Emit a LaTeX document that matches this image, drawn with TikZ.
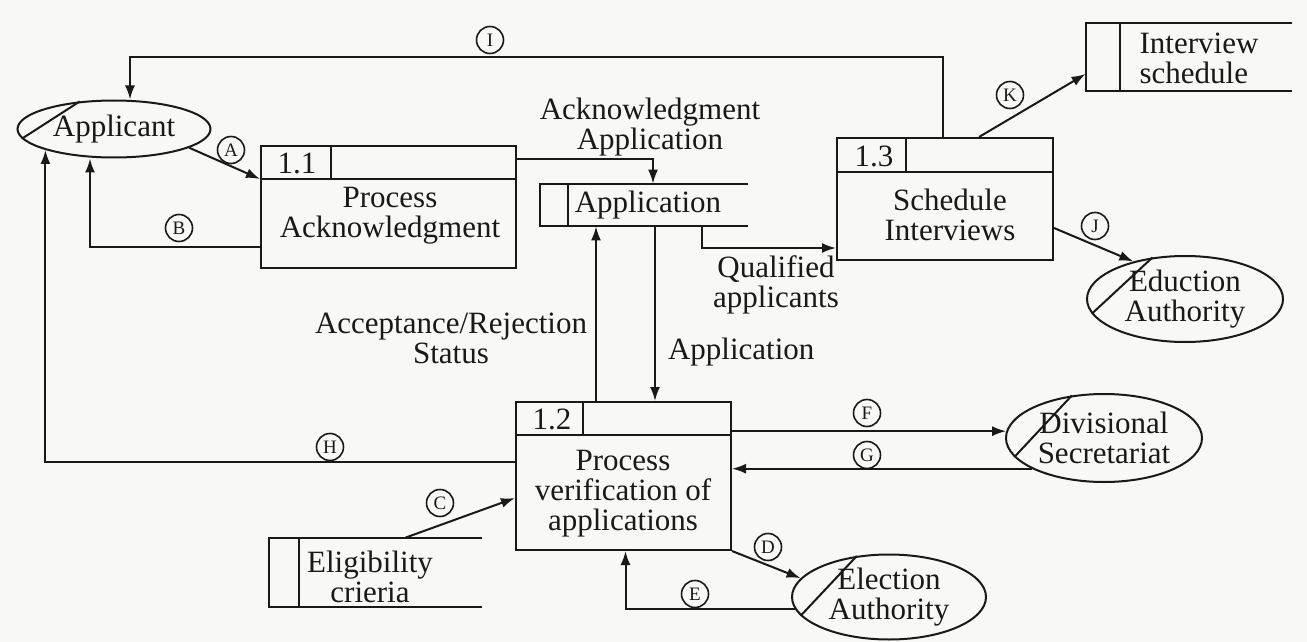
\documentclass[tikz,border=0pt]{standalone}
\usepackage{fontspec}
\setmainfont{Liberation Serif}
\usetikzlibrary{arrows.meta, calc, shapes.geometric}
\definecolor{paper}{RGB}{248,248,247}
\definecolor{ink}{RGB}{25,25,25}

\begin{document}
\begin{tikzpicture}[
    x=0.5pt, y=-0.5pt,
    every node/.style={font=\fontsize{15.5}{15}\selectfont, text=ink},
    proc/.style={draw=ink, line width=1pt, inner sep=0pt},
    store/.style={inner sep=0pt},
    ent/.style={draw=ink, line width=1pt, ellipse, inner sep=0pt, align=center},
    tag/.style={draw=ink, circle, line width=0.8pt, inner sep=0pt, minimum size=13.5pt,
                font=\fontsize{9.5}{9.5}\selectfont},
    flow/.style={-{Latex[length=7pt,width=5pt]}, draw=ink, line width=1pt},
    rim/.style={draw=ink, line width=1pt},
]
    \fill[paper] (0,0) rectangle (1307,642);
    \useasboundingbox (0,0) rectangle (1307,642);

    % Process 1.1
    \node[proc, minimum width=127.5pt, minimum height=61pt] (p11) at (388.5,207) {};
    \draw[rim] ([yshift=-17pt]p11.north west) -- ([yshift=-17pt]p11.north east);
    \draw[rim] ([xshift=35.5pt]p11.north west) -- ++(0,34);
    \node (p11id) at (297,163) {1.1};
    \node[align=center] (p11txt) at (390,216) {Process\\Acknowledgment};

    % Process 1.2
    \node[proc, minimum width=107.5pt, minimum height=74pt] (p12) at (623.5,476) {};
    \draw[rim] ([yshift=-17pt]p12.north west) -- ([yshift=-17pt]p12.north east);
    \draw[rim] ([xshift=34pt]p12.north west) -- ++(0,34);
    \node (p12id) at (552,419) {1.2};
    \node[align=center] (p12txt) at (623,494) {Process\\verification of\\applications};

    % Process 1.3
    \node[proc, minimum width=108pt, minimum height=61pt] (p13) at (945,199) {};
    \draw[rim] ([yshift=-17.5pt]p13.north west) -- ([yshift=-17.5pt]p13.north east);
    \draw[rim] ([xshift=35pt]p13.north west) -- ++(0,35);
    \node (p13id) at (874,156) {1.3};
    \node[align=center] (p13txt) at (950,214.5) {Schedule\\Interviews};

    % Data stores
    \node[store, minimum width=104pt, minimum height=21pt] (appst) at (644,205) {};
    \draw[rim] (appst.north east) -- (appst.north west) -- (appst.south west) -- (appst.south east);
    \draw[rim] ([xshift=14pt]appst.north west) -- ([xshift=14pt]appst.south west);
    \node (appsttxt) at (648,205) {Application};

    \node[store, minimum width=103pt, minimum height=34pt] (isch) at (1189,57) {};
    \draw[rim] (isch.north east) -- (isch.north west) -- (isch.south west) -- (isch.south east);
    \draw[rim] ([xshift=17pt]isch.north west) -- ([xshift=17pt]isch.south west);
    \node[align=left] (ischtxt) at (1199,58) {Interview\\schedule};

    \node[store, minimum width=106.5pt, minimum height=34.5pt] (elig) at (375.5,572.5) {};
    \draw[rim] (elig.north east) -- (elig.north west) -- (elig.south west) -- (elig.south east);
    \draw[rim] ([xshift=15pt]elig.north west) -- ([xshift=15pt]elig.south west);
    \node[align=center] (eligtxt) at (370,577) {Eligibility\\crieria};

    % External entities
    \node[ent, minimum width=96.5pt, minimum height=28.5pt] (app) at (114,129) {Applicant};
    \draw[rim] (app.186) -- (app.141);
    \node[ent, minimum width=97pt, minimum height=42.5pt] (ea) at (889,597) {Election\\Authority};
    \draw[rim] (ea.192) -- (ea.128);
    \node[ent, minimum width=98pt, minimum height=44pt] (ds) at (1104,438) {Divisional\\Secretariat};
    \draw[rim] (ds.192) -- (ds.127);
    \node[ent, minimum width=98pt, minimum height=43pt] (edu) at (1185,299) {Eduction\\Authority};
    \draw[rim] (edu.189) -- (edu.128);

    % Flows round the applicant
    \coordinate (itop) at (130,57);
    \draw[flow] ([xshift=-1pt]p13.north) |- (itop) -- (itop |- app.north);
    \node[tag] (tagi) at (490,40) {I};
    \draw[flow] (app.-14) -- ([yshift=-17pt]p11.north west);
    \node[tag] (taga) at (231,150) {A};
    \draw[flow] ([yshift=-20pt]p11.west) -| ([xshift=-12pt]app.south);
    \node[tag] (tagb) at (179,228) {B};
    \draw[flow] ([yshift=7pt]p12.west) -| (app.197);
    \node[tag] (tagh) at (330,447) {H};

    % Flows of process 1.2
    \draw[flow] ([xshift=68.5pt]elig.north west) -- ([yshift=-11pt]p12.west);
    \node[tag] (tagc) at (440,503) {C};
    \draw[flow] (p12.south east) -- (ea.168);
    \node[tag] (tagd) at (768,547) {D};
    \draw[flow] (ea.187) -| ([xshift=1pt]p12.south);
    \node[tag] (tage) at (695,594) {E};
    \draw[flow] (p12.east |- ds.176) -- (ds.176);
    \node[tag] (tagf) at (867,413) {F};
    \draw[flow] (ds.203) -- (p12.east |- ds.203);
    \node[tag] (tagg) at (867,455) {G};

    % Flows of process 1.3
    \draw[flow] ([yshift=-14.5pt]p13.east) -- (edu.144);
    \node[tag] (tagj) at (1095,226) {J};
    \draw[flow] ([xshift=17pt]p13.north) -- ([yshift=-8.5pt]isch.west);
    \node[tag] (tagk) at (1010,95) {K};

    % Flows through the application store
    \draw[flow] ([yshift=24pt]p11.east) -| ([xshift=4.5pt]appst.north);
    \node[align=center] (acklbl) at (650,127) {Acknowledgment\\Application};
    \draw[flow] ([xshift=29pt]appst.south) |- ([yshift=-24.5pt]p13.west);
    \node[align=center] (quallbl) at (776,285) {Qualified\\applicants};
    \draw[flow] ([xshift=-13.75pt]p12.north) -- ([xshift=-13.75pt]p12.north |- appst.south);
    \node[align=center] (acclbl) at (451,338) {Acceptance/Rejection\\Status};
    \draw[flow] ([xshift=5.5pt]appst.south) -- ([xshift=5.5pt]appst.south |- p12.north);
    \node[anchor=west] (applbl) at (661,352) {Application};
\end{tikzpicture}
\end{document}
